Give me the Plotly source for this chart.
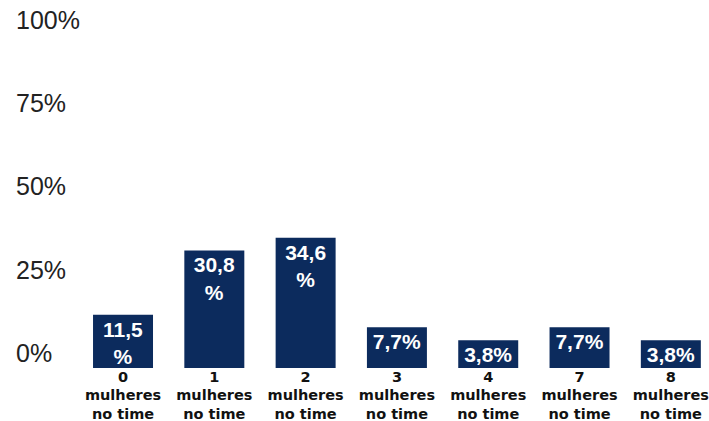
import plotly.graph_objects as go

# ---- data ----
women_counts = [0, 1, 2, 3, 4, 7, 8]
share_pct = [11.5, 30.8, 34.6, 7.7, 3.8, 7.7, 3.8]
y_tick_values = [0, 25, 50, 75, 100]
y_tick_labels = ["0%", "25%", "50%", "75%", "100%"]

categories = [f"{n}<br>mulheres<br>no time" for n in women_counts]


def fmt(v):
    s = f"{v:.1f}".replace(".", ",")
    return s + ("<br>%" if v >= 10 else "%")


bar_text = [fmt(v) for v in share_pct]

NAVY = "#0c2b5d"
Y_FLOOR = -4.5

fig = go.Figure(
    go.Bar(
        x=categories,
        y=[v - Y_FLOOR for v in share_pct],
        base=Y_FLOOR,
        marker=dict(color=NAVY, line=dict(width=0)),
        text=bar_text,
        textposition="inside",
        insidetextanchor="end",
        textangle=0,
        insidetextfont=dict(family="Liberation Sans, Arial, sans-serif", size=21, color="white", weight="bold"),
        hoverinfo="skip",
    )
)

fig.update_layout(
    width=709,
    height=421,
    margin=dict(l=13, r=0, t=5, b=53),
    paper_bgcolor="white",
    plot_bgcolor="white",
    showlegend=False,
    bargap=0.343,
    uniformtext=dict(minsize=21, mode="show"),
    xaxis=dict(
        type="category",
        range=[-1.205, 6.418],
        automargin=False,
        showgrid=False,
        zeroline=False,
        showline=False,
        ticks="",
        ticklabelstandoff=-2,
        tickfont=dict(family="DejaVu Sans, sans-serif", size=14.5, color="#111111", weight="bold"),
    ),
    yaxis=dict(
        range=[Y_FLOOR, 104.5],
        automargin=False,
        tickvals=y_tick_values,
        ticktext=y_tick_labels,
        ticklabelposition="inside",
        showgrid=False,
        zeroline=False,
        showline=False,
        ticks="",
        tickfont=dict(family="Liberation Sans, Arial, sans-serif", size=25, color="#222222"),
    ),
)

fig.write_html("out.html")
